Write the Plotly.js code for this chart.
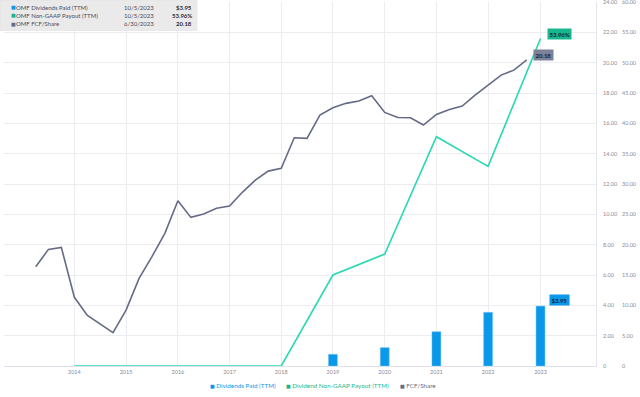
<!DOCTYPE html>
<html>
<head>
<meta charset="utf-8">
<script src="https://cdn.plot.ly/plotly-3.0.1.min.js"></script>
<style>
  html, body { margin: 0; padding: 0; background: #ffffff; }
  #chart { width: 640px; height: 397px; }
</style>
</head>
<body>
<div id="chart"></div>
<script>
// ---------------- DATA ----------------
const fcfDates = [
  '2013-12-31',
  '2014-03-31','2014-06-30','2014-09-30','2014-12-31',
  '2015-03-31','2015-06-30','2015-09-30','2015-12-31',
  '2016-03-31','2016-06-30','2016-09-30','2016-12-31',
  '2017-03-31','2017-06-30','2017-09-30','2017-12-31',
  '2018-03-31','2018-06-30','2018-09-30','2018-12-31',
  '2019-03-31','2019-06-30','2019-09-30','2019-12-31',
  '2020-03-31','2020-06-30','2020-09-30','2020-12-31',
  '2021-03-31','2021-06-30','2021-09-30','2021-12-31',
  '2022-03-31','2022-06-30','2022-09-30','2022-12-31',
  '2023-03-31','2023-06-30'
];
const fcfPerShare = [
  6.55,
  7.69, 7.82, 4.53, 3.34,
  2.77, 2.20, 3.69, 5.78,
  7.21, 8.75, 10.90, 9.80,
  10.02, 10.40, 10.55, 11.47,
  12.26, 12.85, 13.03, 15.05,
  15.01, 16.55, 17.03, 17.32,
  17.47, 17.82, 16.72, 16.39,
  16.37, 15.89, 16.59, 16.92,
  17.14, 17.86, 18.52, 19.18,
  19.51, 20.18
];

const annualDates = ['2014-09-30','2015-09-30','2016-09-30','2017-09-30','2018-09-30',
                     '2019-09-30','2020-09-30','2021-09-30','2022-09-30','2023-10-05'];
const yearLabels  = ['2014','2015','2016','2017','2018','2019','2020','2021','2022','2023'];
const payoutPct   = [0, 0, 0, 0, 0, 15.0, 18.46, 37.8, 32.9, 53.96];

const divDates    = ['2019-09-30','2020-09-30','2021-09-30','2022-09-30','2023-10-05'];
const divPaid     = [0.77, 1.21, 2.26, 3.54, 3.95];

const leftTickVals  = [0,2,4,6,8,10,12,14,16,18,20,22,24];
const leftTickText  = ['0','2.00','4.00','6.00','8.00','10.00','12.00','14.00','16.00','18.00','20.00','22.00','24.00'];
const rightTickVals = [0,5,10,15,20,25,30,35,40,45,50,55,60];
const rightTickText = ['0','5.00','10.00','15.00','20.00','25.00','30.00','35.00','40.00','45.00','50.00','55.00','60.00'];

const seriesNames = ['Dividends Paid (TTM)', 'Dividend Non-GAAP Payout (TTM)', 'FCF/Share'];
const tableNames  = ['OMF Dividends Paid (TTM)', 'OMF Non-GAAP Payout (TTM)', 'OMF FCF/Share'];
const tableDates  = ['10/5/2023', '10/5/2023', '6/30/2023'];
const tableValues = ['$3.95', '53.96%', '20.18'];

// ---------------- STYLE ----------------
const C_BLUE = '#0a98e9';
const C_TEAL = '#2ad9b3';
const C_GREEN = '#17b98c';
const C_GRAY = '#646b86';
const C_GRAY_LBL = '#7d8299';
const FONT = 'Lato, "Open Sans", sans-serif';

const M = {l: 4, r: 44, t: 2, b: 31};
const W = 640, H = 397;
const PW = W - M.l - M.r, PH = H - M.t - M.b;
const px = x => (x - M.l) / PW;
const py = y => 1 - (y - M.t) / PH;

const DAY = 86400000;

const traces = [
  {
    type: 'bar', x: divDates, y: divPaid, name: seriesNames[0],
    marker: {color: C_BLUE, line: {color: '#6cc0f2', width: 0.5}},
    width: 63 * DAY, yaxis: 'y', showlegend: false, hoverinfo: 'skip'
  },
  {
    type: 'scatter', mode: 'lines', x: annualDates, y: payoutPct, name: seriesNames[1],
    line: {color: C_TEAL, width: 1.6}, yaxis: 'y2', showlegend: false, hoverinfo: 'skip'
  },
  {
    type: 'scatter', mode: 'lines', x: fcfDates, y: fcfPerShare, name: seriesNames[2],
    line: {color: C_GRAY, width: 1.6}, yaxis: 'y', showlegend: false, hoverinfo: 'skip'
  }
];

const annotations = [];
// end-value labels
annotations.push({
  x: divDates[divDates.length-1], y: divPaid[divPaid.length-1], xref: 'x', yref: 'y',
  text: '<b>' + tableValues[0] + '</b>', showarrow: false, xanchor: 'left', yanchor: 'bottom',
  xshift: 8, yshift: 0, bgcolor: C_BLUE, borderpad: 1.5,
  font: {family: FONT, size: 6, color: '#10203a'}
});
annotations.push({
  x: annualDates[annualDates.length-1], y: payoutPct[payoutPct.length-1], xref: 'x', yref: 'y2',
  text: '<b>' + tableValues[1] + '</b>', showarrow: false, xanchor: 'left', yanchor: 'bottom',
  xshift: 6, yshift: -1, bgcolor: C_GREEN, borderpad: 1.5,
  font: {family: FONT, size: 6, color: '#10203a'}
});
annotations.push({
  x: fcfDates[fcfDates.length-1], y: fcfPerShare[fcfPerShare.length-1], xref: 'x', yref: 'y',
  text: '<b>' + tableValues[2] + '</b>', showarrow: false, xanchor: 'left', yanchor: 'bottom',
  xshift: 6, yshift: -1, bgcolor: C_GRAY_LBL, borderpad: 1.5,
  font: {family: FONT, size: 6, color: '#10203a'}
});

// top-left table
const tableColors = [C_BLUE, C_GREEN, C_GRAY];
const rowY = [7.3, 15.5, 23.5];
for (let i = 0; i < 3; i++) {
  annotations.push({
    x: px(8.5), y: py(rowY[i]), xref: 'paper', yref: 'paper', showarrow: false,
    xanchor: 'left', yanchor: 'middle', text: '■',
    font: {family: 'DejaVu Sans', size: 5, color: tableColors[i]}
  });
  annotations.push({
    x: px(14), y: py(rowY[i]), xref: 'paper', yref: 'paper', showarrow: false,
    xanchor: 'left', yanchor: 'middle', text: tableNames[i],
    font: {family: FONT, size: 6, color: '#4a4a55'}
  });
  annotations.push({
    x: px(122), y: py(rowY[i]), xref: 'paper', yref: 'paper', showarrow: false,
    xanchor: 'left', yanchor: 'middle', text: tableDates[i],
    font: {family: FONT, size: 6, color: '#4a4a55'}
  });
  annotations.push({
    x: px(193.5), y: py(rowY[i]), xref: 'paper', yref: 'paper', showarrow: false,
    xanchor: 'right', yanchor: 'middle', text: '<b>' + tableValues[i] + '</b>',
    font: {family: FONT, size: 6, color: '#2a2a35'}
  });
}

// bottom legend
const legendX = [207.5, 284, 397.5];
const legendColors = [C_BLUE, C_GREEN, C_GRAY];
for (let i = 0; i < 3; i++) {
  annotations.push({
    x: px(legendX[i]), y: py(385), xref: 'paper', yref: 'paper', showarrow: false,
    xanchor: 'left', yanchor: 'middle',
    text: '<span style="font-family:DejaVu Sans;font-size:5px">■</span> ' + seriesNames[i],
    font: {family: FONT, size: 6.3, color: legendColors[i]}
  });
}

const layout = {
  width: W, height: H,
  margin: M,
  paper_bgcolor: '#ffffff', plot_bgcolor: '#ffffff',
  font: {family: FONT, size: 6, color: '#8c8c96'},
  showlegend: false,
  bargap: 0,
  xaxis: {
    type: 'date',
    range: ['2013-05-21', '2024-10-31'],
    tickmode: 'array', tickvals: annualDates, ticktext: yearLabels,
    showgrid: true, gridcolor: '#ececf1', gridwidth: 1,
    showline: true, linecolor: '#dfe2ec', linewidth: 1,
    ticks: '', zeroline: false,
    tickfont: {family: FONT, size: 5.5, color: '#8c8c96'},
    fixedrange: true
  },
  yaxis: {
    range: [0, 24.002], side: 'right',
    tickmode: 'array', tickvals: leftTickVals, ticktext: leftTickText,
    showgrid: true, gridcolor: '#ececf1', gridwidth: 1,
    showline: true, linecolor: '#e4e6ee', linewidth: 1,
    zeroline: false, ticks: '', ticklabelstandoff: 5,
    ticklabeloverflow: 'allow',
    tickfont: {family: FONT, size: 5.5, color: '#8c8c96'},
    fixedrange: true
  },
  yaxis2: {
    range: [0, 60.005], side: 'right', overlaying: 'y',
    tickmode: 'array', tickvals: rightTickVals, ticktext: rightTickText,
    showgrid: false, zeroline: false, showline: false, ticks: '',
    ticklabelstandoff: 25,
    ticklabeloverflow: 'allow',
    tickfont: {family: FONT, size: 5.5, color: '#8c8c96'},
    fixedrange: true
  },
  shapes: [{
    type: 'rect', xref: 'paper', yref: 'paper', layer: 'above',
    x0: px(0), x1: px(197), y0: py(0), y1: py(30.5),
    fillcolor: '#eaeaea', line: {color: '#dcdcdc', width: 0.5}
  }],
  annotations: annotations
};

Plotly.newPlot('chart', traces, layout, {displayModeBar: false, staticPlot: true});
</script>
</body>
</html>
